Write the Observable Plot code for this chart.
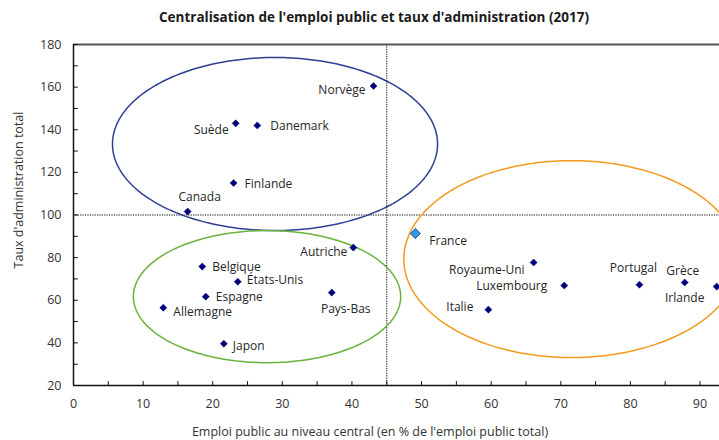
<!DOCTYPE html>
<html>
<head>
<meta charset="utf-8">
<script src="https://cdn.jsdelivr.net/npm/d3@7"></script>
<script src="https://cdn.jsdelivr.net/npm/@observablehq/plot@0.6"></script>
<style>
  body { margin: 0; background: #fff; }
  #wrap { position: relative; width: 719px; height: 440px; font-family: "Open Sans", sans-serif; }
  #title { position: absolute; top: 8px; left: 0; width: 748px; text-align: center; font-weight: bold; font-size: 13.5px; color: #1a1a1a; }
  #ylab { position: absolute; left: 18px; top: 190px; transform: translate(-50%, -50%) rotate(-90deg); white-space: nowrap; font-size: 12.5px; color: #333; }
  #xlab { position: absolute; top: 423px; left: 0; width: 740px; text-align: center; font-size: 12.5px; color: #333; }
  svg { position: absolute; top: 0; left: 0; }
</style>
</head>
<body>
<div id="wrap">
  <div id="chart"></div>
  <div id="title">Centralisation de l'emploi public et taux d'administration (2017)</div>
  <div id="ylab">Taux d'administration total</div>
  <div id="xlab">Emploi public au niveau central (en % de l'emploi public total)</div>
</div>
<script>
// Data
const countries = ["Norvège","Suède","Danemark","Finlande","Canada","Autriche","Belgique","États-Unis","Espagne","Allemagne","Pays-Bas","Japon","France","Royaume-Uni","Luxembourg","Italie","Portugal","Grèce","Irlande"];
const centralShare = [43.1,23.3,26.4,23.0,16.4,40.2,18.5,23.6,19.0,12.9,37.1,21.6,49.1,66.1,70.5,59.6,81.3,87.8,92.4];
const adminRate = [160.5,143,142,115,101.6,84.7,75.8,68.7,61.7,56.5,63.6,39.6,91.3,77.7,66.9,55.6,67.3,68.3,66.4];
const xTickLabels = [0,10,20,30,40,50,60,70,80,90];
const yTickLabels = [20,40,60,80,100,120,140,160,180];
const xRef = 45;
const yRef = 100;
// Group ellipses (centre x, centre y, radius x, radius y) in data units
const groupNames = ["nordique","continental","sud"];
const groupCx = [28.95, 27.8, 71.55];
const groupCy = [133.3, 61.7, 79.3];
const groupRx = [23.35, 19.2, 24.1];
const groupRy = [40.6, 31.0, 46.2];

// Styles
const groupColors = ["#2f3f93", "#6ab43e", "#f39a1f"];
const labelStyle = {
  "Norvège": ["end", -8, 4], "Suède": ["end", -7, 7], "Danemark": ["start", 13, 1],
  "Finlande": ["start", 11, 1], "Canada": ["middle", 12, -14], "Autriche": ["end", -6, 5],
  "Belgique": ["start", 10, 1], "États-Unis": ["start", 9, -2], "Espagne": ["start", 10, 1],
  "Allemagne": ["start", 10, 4], "Pays-Bas": ["middle", 14, 17], "Japon": ["start", 9, 2],
  "France": ["start", 14, 8], "Royaume-Uni": ["end", -9, 8], "Luxembourg": ["end", -17, 1],
  "Italie": ["end", -15, -2], "Portugal": ["middle", -6, -17], "Grèce": ["middle", -2, -11],
  "Irlande": ["middle", -32, 12]
};

const pts = countries.map((c, i) => ({country: c, x: centralShare[i], y: adminRate[i]}));
const ellipsePts = [];
groupNames.forEach((g, gi) => {
  for (let k = 0; k <= 240; k++) {
    const t = 2 * Math.PI * k / 240;
    ellipsePts.push({group: g, x: groupCx[gi] + groupRx[gi] * Math.cos(t), y: groupCy[gi] + groupRy[gi] * Math.sin(t)});
  }
});

const tickShape = {draw(ctx, l) { ctx.moveTo(0, 0); ctx.lineTo(0, -l); }};
const xMinor = d3.range(0, 95, 5);
const yMinor = d3.range(20, 181, 10);

const textMarks = pts.map(p => {
  const [anchor, dx, dy] = labelStyle[p.country];
  return Plot.text([p], {x: "x", y: "y", text: "country", textAnchor: anchor, dx, dy, fill: "#262626", fontSize: 12, fontFamily: "Open Sans"});
});

const chart = Plot.plot({
  width: 719,
  height: 440,
  marginTop: 44,
  marginBottom: 55,
  marginLeft: 73,
  marginRight: 0,
  style: {fontFamily: "Open Sans", fontSize: "12px", color: "#333", background: "transparent"},
  x: {domain: [0, 92.8], ticks: xTickLabels},
  y: {domain: [20, 180], ticks: yTickLabels},
  marks: [
    Plot.ruleX([xRef], {stroke: "#000", strokeDasharray: "1.2,1.2", strokeWidth: 1}),
    Plot.ruleY([yRef], {stroke: "#000", strokeDasharray: "1.2,1.2", strokeWidth: 1}),
    Plot.line(ellipsePts, {x: "x", y: "y", z: "group", stroke: d => groupColors[groupNames.indexOf(d.group)], strokeWidth: 1.5}),
    Plot.ruleY([180], {stroke: "#555", strokeWidth: 2}),
    Plot.ruleY([20], {stroke: "#111", strokeWidth: 1.5}),
    Plot.ruleX([0], {stroke: "#111", strokeWidth: 1.5}),
    Plot.vector(xMinor, {x: d => d, y: 20, length: 4, shape: tickShape, anchor: "start", stroke: "#111", strokeWidth: 1}),
    Plot.vector(yMinor, {x: 0, y: d => d, length: 4, rotate: 90, shape: tickShape, anchor: "start", stroke: "#111", strokeWidth: 1}),
    Plot.axisX({ticks: xTickLabels, tickSize: 0, tickPadding: 14, label: null, fontSize: 12.5, fill: "#333"}),
    Plot.axisY({ticks: yTickLabels, tickSize: 0, tickPadding: 12, label: null, fontSize: 12.5, fill: "#333"}),
    Plot.dot(pts.filter(p => p.country !== "France"), {x: "x", y: "y", symbol: "diamond2", r: 3.2, fill: "#00007a", stroke: "#00007a", strokeWidth: 0.5}),
    Plot.dot(pts.filter(p => p.country === "France"), {x: "x", y: "y", symbol: "diamond2", r: 4.5, fill: "#2f9ae0", stroke: "#1f3f8f", strokeWidth: 1}),
    ...textMarks
  ]
});
document.getElementById("chart").appendChild(chart);
</script>
</body>
</html>
